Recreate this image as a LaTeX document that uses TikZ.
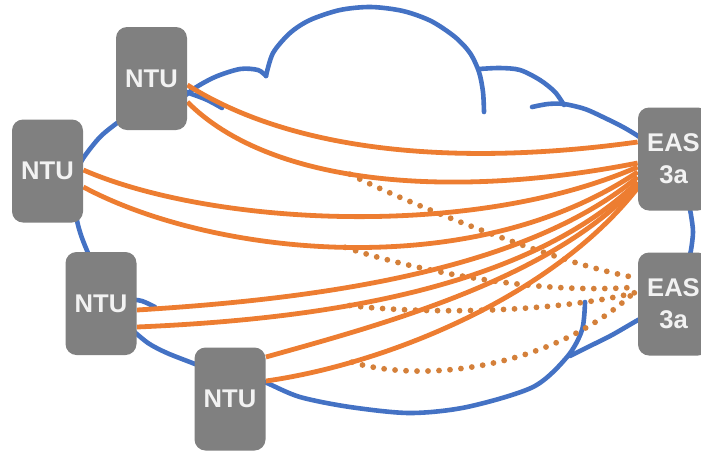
\documentclass[tikz,border=0pt]{standalone}
\usepackage{fontspec}
\setmainfont{Liberation Sans}
\usetikzlibrary{calc}

\definecolor{cloudblue}{RGB}{68,114,196}
\definecolor{linkorange}{RGB}{237,125,49}
\definecolor{dotorange}{RGB}{212,128,58}
\definecolor{boxgray}{RGB}{128,128,128}
\definecolor{boxtext}{RGB}{242,242,242}

\pgfdeclarelayer{cloudbg}
\pgfdeclarelayer{links}
\pgfsetlayers{cloudbg,links,main}

\tikzset{
    unit/.style={fill=boxgray, rounded corners=5.5pt, minimum width=35.5pt,
        minimum height=51.5pt, inner sep=0pt, text=boxtext, align=center,
        font=\fontsize{12.8}{16}\selectfont\bfseries},
    cloud line/.style={draw=cloudblue, line width=2.3pt, line cap=round},
    link/.style={draw=linkorange, line width=2.4pt},
    backup/.style={draw=dotorange, line width=2.9pt, line cap=round,
        dash pattern=on 0pt off 5.5pt},
}

\begin{document}
\begin{tikzpicture}[x=0.5pt,y=-0.5pt]
    \useasboundingbox (0,0) rectangle (701,452);

    \node[unit] (ntuA) at (151.5,78.5) {NTU};
    \node[unit] (ntuB) at (47.5,171) {NTU};
    \node[unit] (ntuC) at (101,303.5) {NTU};
    \node[unit] (ntuD) at (230,399) {NTU};
    \node[unit] (easA) at (673.5,159) {EAS\\3a};
    \node[unit] (easB) at (673.5,304) {EAS\\3a};

    % the cloud
    \begin{pgfonlayer}{cloudbg}
    \draw[cloud line] plot[smooth] coordinates {(172,108) (192,90) (215,77) (240,69) (258,70) (266,76)};
    \draw[cloud line] plot[smooth] coordinates {(180,90) (205,99) (222,108)};
    \draw[cloud line] plot[smooth] coordinates {(266,76) (273,53) (290,33) (310,20) (340,10) (371,7)
        (403,11) (431,21) (455,37) (470,53) (479,72) (483,92) (484,112)};
    \draw[cloud line] plot[smooth] coordinates {(479,69) (500,68) (520,70) (540,80) (555,92) (564,105)};
    \draw[cloud line] plot[smooth] coordinates {(532,107) (548,104) (564,104) (585,109) (605,118)
        (623,127) (638,136) (652,146)};
    \draw[cloud line] plot[smooth] coordinates {(688,200) (691,215) (693,232) (691,250) (688,262)};
    \draw[cloud line] plot[smooth] coordinates {(652,313) (638,320) (612,335) (590,346) (570,356)};
    \draw[cloud line] plot[smooth] coordinates {(250,376) (267,383) (300,397) (350,407) (410,413)
        (467,407) (533,387) (567,357) (582,330) (585,302)};
    \draw[cloud line] plot[smooth] coordinates {(212,371) (195,364) (167,353) (148,343) (130,328)};
    \draw[cloud line] plot[smooth] coordinates {(128,299) (142,301) (155,307)};
    \draw[cloud line] plot[smooth] coordinates {(75,210) (78,225) (82,238) (88,253) (92,262)};
    \draw[cloud line] plot[smooth] coordinates {(76,172) (84,157) (100,137) (117,123) (130,114)};
    \end{pgfonlayer}

    % working links to the first EAS
    \begin{pgfonlayer}{links}
    \draw[link] ($(ntuA.east)+(0,6.5)$) .. controls (290,150) and (450,168) .. ($(easA.west)+(0,-17)$);
    \draw[link] ($(ntuA.east)+(0,23.5)$) .. controls (270,185) and (450,200) .. ($(easA.west)+(0,4)$)
        coordinate[pos=0.45] (splitB);
    \draw[link] ($(ntuB.east)+(0,-1)$) .. controls (210,225) and (470,240) .. ($(easA.west)+(0,8)$);
    \draw[link] ($(ntuB.east)+(0,16)$) .. controls (210,255) and (470,285) .. ($(easA.west)+(0,13)$)
        coordinate[pos=0.5] (splitD);
    \draw[link] ($(ntuC.east)+(0,6.5)$) .. controls (300,300) and (520,275) .. ($(easA.west)+(0,18)$);
    \draw[link] ($(ntuC.east)+(0,23.5)$) .. controls (300,320) and (520,295) .. ($(easA.west)+(0,23)$)
        coordinate[pos=0.4] (splitF);
    \draw[link] ($(ntuD.east)+(0,-42)$) .. controls (380,325) and (550,280) .. ($(easA.west)+(0,26)$);
    \draw[link] ($(ntuD.east)+(0,-18)$) .. controls (380,365) and (550,300) .. ($(easA.west)+(0,29)$)
        coordinate[pos=0.23] (splitH);
    \end{pgfonlayer}

    % backup links to the second EAS
    \begin{pgfonlayer}{cloudbg}
    \draw[backup] (splitB) .. controls (400,200) and (560,265) .. ($(easB.west)+(0,-26)$);
    \draw[backup] (splitD) .. controls (420,272) and (540,295) .. ($(easB.west)+(0,-17)$);
    \draw[backup] (splitF) .. controls (430,315) and (560,312) .. ($(easB.west)+(0,-12)$);
    \draw[backup] (splitH) .. controls (430,385) and (560,365) .. ($(easB.west)+(0,-15)$);
    \end{pgfonlayer}
\end{tikzpicture}
\end{document}
